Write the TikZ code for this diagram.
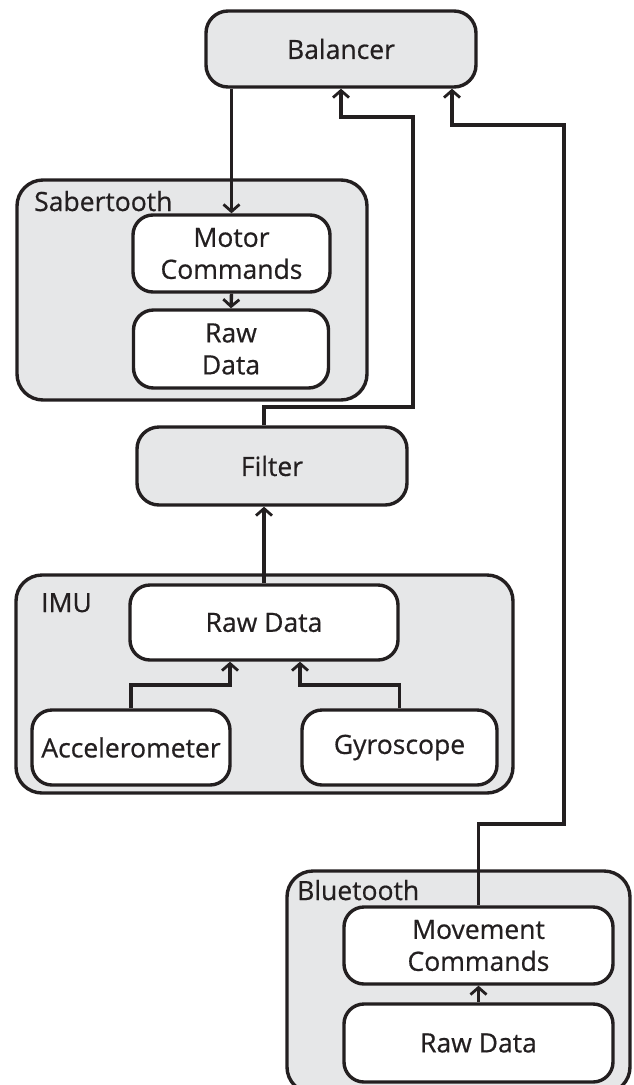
\documentclass[tikz,border=0pt]{standalone}
\usepackage{fontspec}
\setmainfont{Open Sans}[FakeBold=0.6]
\usetikzlibrary{arrows.meta,calc}
\definecolor{boxgrey}{HTML}{E6E7E8}
\definecolor{ink}{HTML}{231F20}
\tikzset{
  base/.style={draw=ink, line width=3.4pt, rounded corners=22pt, inner sep=0pt, align=center,
     font=\fontsize{26.5}{32}\selectfont, text=ink},
  greybox/.style={base, fill=boxgrey},
  whitebox/.style={base, fill=white, rounded corners=20pt},
  container/.style={base, fill=boxgrey, rounded corners=26pt},
  lab/.style={anchor=base west, inner sep=0pt, font=\fontsize{26.5}{32}\selectfont, text=ink},
  arr/.style={draw=ink, line width=3.4pt, -{Straight Barb[length=7pt,width=16pt,line width=2.8pt]}},
  wire/.style={draw=ink, line width=3.4pt}
}
\begin{document}
\begin{tikzpicture}[x=1pt,y=-1pt]
\useasboundingbox (0,0) rectangle (633,1085);
% containers
\node[container, minimum width=350, minimum height=220] (sab) at (192,290) {};
\node[container, minimum width=497, minimum height=218] (imu) at (264.5,684) {};
\node[container, minimum width=343, minimum height=222] (bt) at (458.5,982) {};
\node[lab] (sablab) at (34,211) {Sabertooth};
\node[lab] (imulab) at (41,612) {IMU};
\node[lab] (btlab) at (297,900) {Bluetooth};
% boxes
\node[greybox, minimum width=270, minimum height=76] (bal) at (341,49) {Balancer};
\node[whitebox, minimum width=197, minimum height=77] (mc) at (231.5,253.5) {Motor\\Commands};
\node[whitebox, minimum width=195, minimum height=78] (sraw) at (231,349) {Raw\\Data};
\node[greybox, minimum width=270, minimum height=78] (filt) at (272,466) {Filter};
\node[whitebox, minimum width=268, minimum height=75] (ird) at (264,622.5) {Raw Data};
\node[whitebox, minimum width=198, minimum height=75] (acc) at (131,747.5) {Accelerometer};
\node[whitebox, minimum width=195, minimum height=75] (gyr) at (399.5,747.5) {Gyroscope};
\node[whitebox, minimum width=269, minimum height=77] (mvc) at (478.5,945.5) {Movement\\Commands};
\node[whitebox, minimum width=269, minimum height=78] (braw) at (478.5,1043) {Raw Data};
% connector points
\coordinate (in2) at ($(bal.south)+(111,0)$);
\coordinate (f1) at (413,407);
\coordinate (f2) at (413,117);
\coordinate (b1) at (564,824);
\coordinate (b2) at (564,125);
\coordinate (j1) at (230,685);
\coordinate (j2) at (300,685);
% connectors
\draw[arr] (bal.south -| mc.north) -- (mc.north);
\draw[arr] (mc.south) -- (sraw.north);
\draw[arr] (filt.north -| ird.north) |- (f1) -- (f2) -| (bal.south);
\draw[arr] (ird.north) -- (ird.north |- filt.south);
\draw[arr] (acc.north) |- (j1) -- (j1 |- ird.south);
\draw[arr] (gyr.north) |- (j2) -- (j2 |- ird.south);
\draw[arr] (mvc.north) |- (b1) -- (b2) -| (in2);
\draw[arr] (braw.north) -- (mvc.south);
\end{tikzpicture}
\end{document}
